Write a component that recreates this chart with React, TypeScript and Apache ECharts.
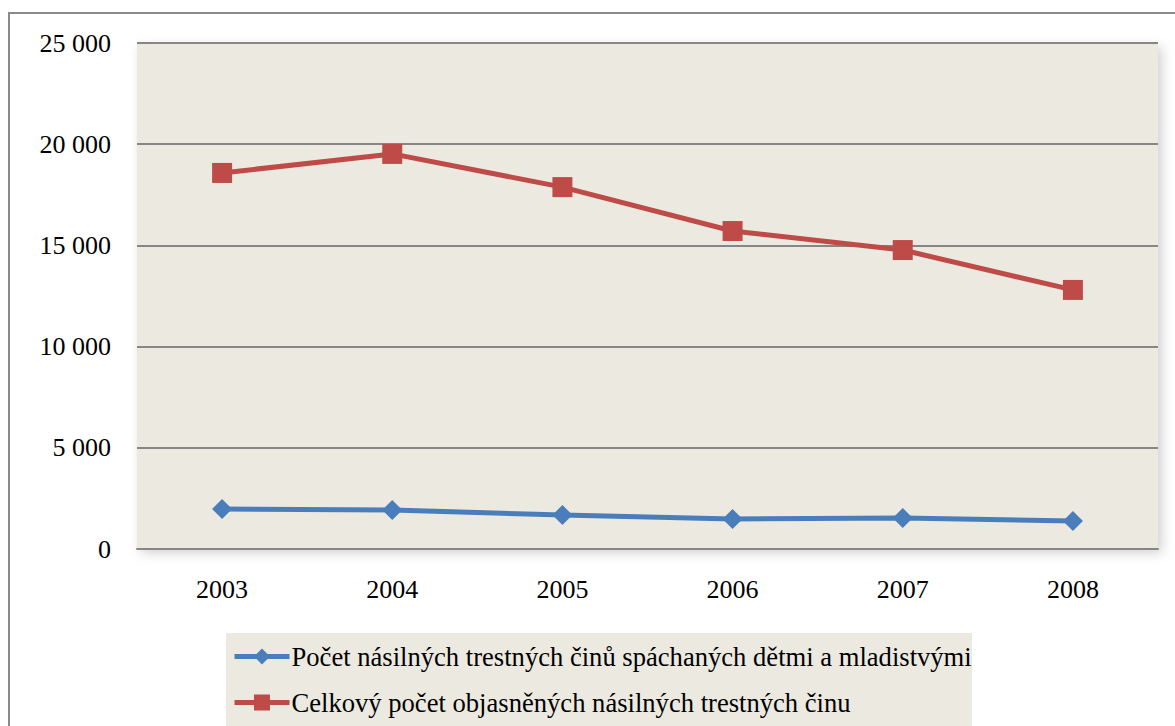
import React, { useEffect, useRef } from "react";
import * as echarts from "echarts";

const years = ["2003", "2004", "2005", "2006", "2007", "2008"];
const juvenileCrimes = [1976, 1930, 1680, 1480, 1530, 1385];
const totalSolved = [18580, 19520, 17880, 15710, 14770, 12800];
const seriesNames = [
  "Počet násilných trestných činů spáchaných dětmi a mladistvými",
  "Celkový počet objasněných násilných trestných činu",
];

const fmt = (v: number) => {
  if (v === 0) return "0";
  const s = String(v);
  return s.replace(/\B(?=(\d{3})+(?!\d))/g, " ");
};

export default function App() {
  const ref = useRef<HTMLDivElement>(null);
  useEffect(() => {
    document.body.style.margin = "0";
    const chart = echarts.init(ref.current!, null, { renderer: "svg" });
    const font = "'Liberation Serif', 'Times New Roman', serif";
    chart.setOption({
      animation: false,
      backgroundColor: "#ffffff",
      textStyle: { fontFamily: font },
      graphic: [
        {
          type: "rect",
          shape: { x: 9, y: 13, width: 1300, height: 900 },
          style: { fill: "none", stroke: "#8a8a8a", lineWidth: 2 },
          z: -1,
        },
        {
          type: "rect",
          shape: { x: 226, y: 633, width: 746, height: 100 },
          style: { fill: "#ECEAE0" },
          z: -1,
        },
      ],
      grid: {
        left: 137,
        top: 43,
        width: 1021,
        height: 506,
        show: true,
        backgroundColor: "#ECEAE0",
        borderWidth: 0,
        shadowBlur: 12,
        shadowColor: "rgba(0,0,0,0.18)",
        shadowOffsetX: 4,
        shadowOffsetY: 4,
      },
      legend: {
        orient: "vertical",
        left: 232,
        top: 643,
        itemWidth: 55,
        itemHeight: 20,
        itemGap: 19,
        padding: 0,
        lineStyle: { width: 5 },
        textStyle: { fontFamily: font, fontSize: 26.6, color: "#000", padding: [0, 0, 0, -3] },
        data: seriesNames,
      },
      xAxis: {
        type: "category",
        data: years,
        boundaryGap: true,
        axisLine: { show: true, lineStyle: { color: "#868686", width: 2 } },
        axisTick: { show: false },
        axisLabel: { fontFamily: font, fontSize: 26, color: "#000", margin: 27 },
      },
      yAxis: {
        type: "value",
        min: 0,
        max: 25000,
        interval: 5000,
        axisLine: { show: false },
        axisTick: { show: false },
        splitLine: { show: true, lineStyle: { color: "#868686", width: 2 } },
        axisLabel: {
          fontFamily: font,
          fontSize: 26,
          color: "#000",
          margin: 26,
          formatter: (v: number) => fmt(v),
        },
      },
      series: [
        {
          name: seriesNames[0],
          type: "line",
          data: juvenileCrimes,
          symbol: "diamond",
          symbolSize: 20,
          lineStyle: { color: "#4A7EBB", width: 5 },
          itemStyle: { color: "#4A7EBB" },
        },
        {
          name: seriesNames[1],
          type: "line",
          data: totalSolved,
          symbol: "rect",
          symbolSize: 20,
          lineStyle: { color: "#BE4B48", width: 5 },
          itemStyle: { color: "#BE4B48" },
        },
      ],
    });
    return () => chart.dispose();
  }, []);
  return <div ref={ref} style={{ width: 1175, height: 726 }} />;
}
